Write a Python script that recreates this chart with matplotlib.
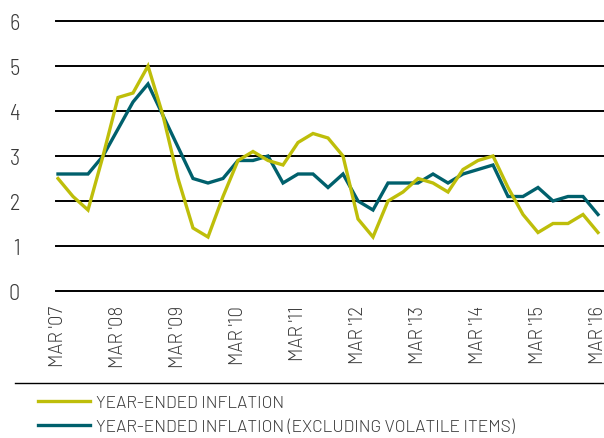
import matplotlib
matplotlib.use('Agg')
import matplotlib.pyplot as plt
from matplotlib.lines import Line2D

plt.rcParams['font.family'] = ['Barlow', 'DejaVu Sans']
plt.rcParams['font.weight'] = 300
narrow = ['Barlow Semi Condensed', 'DejaVu Sans']

# quarterly, Mar 2007 .. Mar 2016
headline = [2.5, 2.1, 1.8, 3.0, 4.3, 4.4, 5.0, 3.9, 2.5, 1.4, 1.2, 2.1,
            2.9, 3.1, 2.9, 2.8, 3.3, 3.5, 3.4, 3.0, 1.6, 1.2, 2.0, 2.2,
            2.5, 2.4, 2.2, 2.7, 2.9, 3.0, 2.3, 1.7, 1.3, 1.5, 1.5, 1.7, 1.3]
underlying = [2.6, 2.6, 2.6, 3.0, 3.6, 4.2, 4.6, 3.9, 3.2, 2.5, 2.4, 2.5,
              2.9, 2.9, 3.0, 2.4, 2.6, 2.6, 2.3, 2.6, 2.0, 1.8, 2.4, 2.4,
              2.4, 2.6, 2.4, 2.6, 2.7, 2.8, 2.1, 2.1, 2.3, 2.0, 2.1, 2.1, 1.7]
year_labels = ["MAR '07", "MAR '08", "MAR '09", "MAR '10", "MAR '11",
               "MAR '12", "MAR '13", "MAR '14", "MAR '15", "MAR '16"]
series_names = ['YEAR-ENDED INFLATION',
                'YEAR-ENDED INFLATION (EXCLUDING VOLATILE ITEMS)']

yellow = '#BEBE0A'
teal = '#00606C'
text_col = '#3a3a3a'

fig = plt.figure(figsize=(6.04, 4.39), dpi=100)
ax = fig.add_axes([56/604, 1 - 292/439, 548/604, 270/439])

for y in range(7):
    ax.axhline(y, color='black', lw=1.4, clip_on=False, zorder=1)

x = list(range(len(headline)))
l1, = ax.plot(x, headline, color=yellow, lw=2.4, zorder=3, solid_joinstyle='miter')
l2, = ax.plot(x, underlying, color=teal, lw=2.4, zorder=2, solid_joinstyle='miter')

ax.set_ylim(0, 6)
ax.set_xlim(-2/15, 36.4)
ax.set_yticks(range(7))
ax.set_yticklabels([str(v) for v in range(7)], fontsize=16, color=text_col,
                   family=narrow)
ax.set_xticks(range(0, 37, 4))
ax.set_xticklabels(year_labels, rotation=90, fontsize=13.5, color=text_col)
ax.tick_params(length=0)
ax.tick_params(axis='y', pad=26)
ax.tick_params(axis='x', pad=10)
for sp in ax.spines.values():
    sp.set_visible(False)

fig.add_artist(Line2D([15/604, 1], [1 - 384/439] * 2, color='black', lw=1.0))

fig.legend([l1, l2], series_names, loc='upper left',
           bbox_to_anchor=(38/604, 1 - 396/439), frameon=False,
           fontsize=12.5, handlelength=3.0, handletextpad=0.35,
           labelspacing=0.45, labelcolor=text_col, borderaxespad=0, borderpad=0)

fig.savefig('out.png', dpi=100)
